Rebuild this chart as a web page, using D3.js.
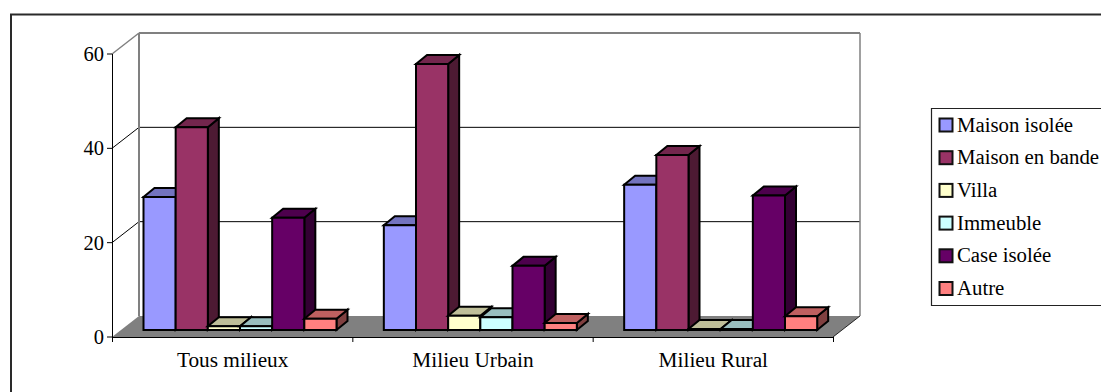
<!DOCTYPE html>
<html><head><meta charset="utf-8">
<script src="https://cdn.jsdelivr.net/npm/d3@7/dist/d3.min.js"></script>
<style>html,body{margin:0;padding:0;background:#fff;overflow:hidden}svg{display:block}text{font-family:"Liberation Serif",serif;fill:#000}</style>
</head><body><svg id="c" width="1101" height="392"></svg>
<script>
const categories = ["Tous milieux","Milieu Urbain","Milieu Rural"];
const seriesNames = ["Maison isolée","Maison en bande","Villa","Immeuble","Case isolée","Autre"];
const maisonIsolee = [28.2,22.2,30.8];
const maisonEnBande = [43,56.4,37.1];
const villa = [0.8,3,0.2];
const immeuble = [0.8,2.7,0.2];
const caseIsolee = [23.8,13.6,28.5];
const autre = [2.4,1.5,2.9];
const yTicks = [0,20,40,60];
const seriesValues = [maisonIsolee,maisonEnBande,villa,immeuble,caseIsolee,autre];
const front = ["#9999ff","#993366","#ffffcc","#ccffff","#660066","#ff8080"];
const topC = ["#7373bf","#73264d","#bfbf99","#99bfbf","#4d004d","#bf6060"];
const side = ["#4d4d80","#4d1a33","#80806a","#6a8080","#330033","#804040"];

const svg = d3.select("#c");
svg.append("path").attr("d","M11,392V14.5H1101").attr("fill","none").attr("stroke","#2a2a2a").attr("stroke-width",2);

const x0=112,x1=833,dX=27,dY=21;
const y = d3.scaleLinear().domain([0,60]).range([337,54]);
const x = d3.scaleBand().domain(categories).range([x0,x1]);
const inner = d3.scaleBand().domain(d3.range(6)).range([31.5,31.5+193]);
const poly=(pts,fill,stroke,sw)=>svg.append("polygon").attr("points",pts.map(p=>p.join(",")).join(" ")).attr("fill",fill).attr("stroke",stroke||"none").attr("stroke-width",sw||0).attr("stroke-linejoin","miter");
const line=(a,b,c,w)=>svg.append("line").attr("x1",a[0]).attr("y1",a[1]).attr("x2",b[0]).attr("y2",b[1]).attr("stroke",c).attr("stroke-width",w);

// floor
poly([[x0,y(0)],[x1,y(0)],[x1+dX,y(0)-dY],[x0+dX,y(0)-dY]],"#808080");
// gridlines
yTicks.slice(1,-1).forEach(t=>{
  line([x0,y(t)],[x0+dX,y(t)-dY],"#000",1);
  line([x0+dX,y(t)-dY],[x1+dX,y(t)-dY],"#000",1);
});
// walls
line([x0,y(60)],[x0+dX,y(60)-dY],"#808080",1.5);
line([x0+dX,y(60)-dY],[x1+dX,y(60)-dY],"#808080",2);
line([x0+dX,y(60)-dY],[x0+dX,y(0)-dY],"#808080",2);
line([x1+dX,y(60)-dY],[x1+dX,y(0)-dY],"#808080",1.5);
line([x1,y(0)],[x1+dX,y(0)-dY],"#000",0.8);
// axes
line([x0,y(0)+.5],[x1,y(0)+.5],"#000",1);
line([x0+.5,y(60)],[x0+.5,y(0)],"#000",1);
yTicks.forEach(t=>{
  line([x0-5,y(t)],[x0,y(t)],"#000",1);
  svg.append("text").attr("x",x0-8).attr("y",y(t)+7).attr("text-anchor","end").attr("font-size",20.5).text(t);
});
[...categories.map(c=>x(c)),x1].forEach(v=>line([v+.5,y(0)],[v+.5,y(0)+5],"#000",1));
categories.forEach(c=>svg.append("text").attr("x",x(c)+x.bandwidth()/2+.5).attr("y",367).attr("text-anchor","middle").attr("font-size",21.3).text(c));

// bars
const ddx=11,ddy=9,fy=7;
categories.forEach((c,ci)=>{
  seriesValues.forEach((vals,si)=>{
    const l=x(c)+inner(si), r=l+inner.bandwidth();
    const t=y(vals[ci])-fy, b=y(0)-fy;
    poly([[r,t],[r+ddx,t-ddy],[r+ddx,b-ddy],[r,b]],side[si],"#000",2);
    poly([[l,t],[r,t],[r+ddx,t-ddy],[l+ddx,t-ddy]],topC[si],"#000",2);
    poly([[l,t],[r,t],[r,b],[l,b]],front[si],"#000",2);
  });
});

// legend
svg.append("path").attr("d","M1101,108.5H931.5V305.5H1101").attr("fill","#fff").attr("stroke","#222").attr("stroke-width",1.2);
seriesNames.forEach((n,i)=>{
  const cy=125+i*32.7;
  svg.append("rect").attr("x",939.5).attr("y",cy-6.5).attr("width",13).attr("height",13).attr("fill",front[i]).attr("stroke","#111").attr("stroke-width",2);
  svg.append("text").attr("x",957).attr("y",cy+6.5).attr("font-size",20.8).text(n);
});
</script></body></html>
